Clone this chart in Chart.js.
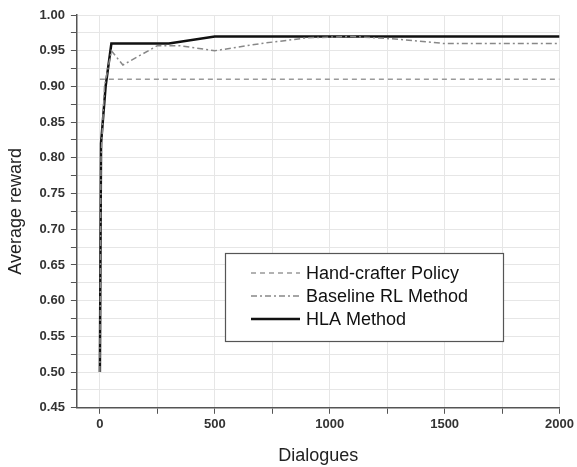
<!DOCTYPE html>
<html>
<head>
<meta charset="utf-8">
<script src="https://cdn.jsdelivr.net/npm/chart.js@4/dist/chart.umd.min.js"></script>
<style>
  html, body { margin: 0; padding: 0; background: #fff; }
  #wrap { width: 577px; height: 467px; }
</style>
</head>
<body>
<div id="wrap"><canvas id="myChart"></canvas></div>
<script>
// series
var handX = [0, 2000];
var handY = [0.91, 0.91];

var baseX = [0, 5, 20, 50, 100, 250, 350, 500, 700, 900, 1100, 1300, 1500, 2000];
var baseY = [0.50, 0.80, 0.90, 0.95, 0.93, 0.957, 0.957, 0.95, 0.96, 0.968, 0.97, 0.966, 0.96, 0.96];

var hlaX = [0, 5, 15, 25, 50, 300, 500, 2000];
var hlaY = [0.50, 0.82, 0.86, 0.90, 0.96, 0.96, 0.97, 0.97];

var labels = ["Hand-crafter Policy", "Baseline RL Method", "HLA Method"];

// x ticks (labels only on the 500s)
var xTicks = [0, 250, 500, 750, 1000, 1250, 1500, 1750, 2000];

function pts(xs, ys) {
  var out = [];
  for (var i = 0; i < xs.length; i++) out.push({x: xs[i], y: ys[i]});
  return out;
}

// legend box inside the plot
var boxLegend = {
  id: 'boxLegend',
  afterDraw: function(chart) {
    var c = chart.ctx;
    c.save();
    c.fillStyle = '#fff';
    c.fillRect(225, 253, 278, 88);
    c.strokeStyle = '#555';
    c.lineWidth = 1.2;
    c.strokeRect(225.5, 253.5, 278, 88);
    var ys = [273, 296, 319];
    chart.data.datasets.forEach(function(ds, i) {
      c.beginPath();
      c.strokeStyle = ds.borderColor;
      c.lineWidth = ds.borderWidth;
      c.setLineDash(ds.borderDash || []);
      c.moveTo(251, ys[i]);
      c.lineTo(300, ys[i]);
      c.stroke();
      c.setLineDash([]);
      c.fillStyle = '#111';
      c.font = '18px "Liberation Sans", Arial, sans-serif';
      c.textBaseline = 'middle';
      c.fillText(ds.label, 306, ys[i] + 1);
    });
    c.restore();
  }
};

var ctx = document.getElementById('myChart');
var myChart = new Chart(ctx, {
  type: 'line',
  data: {
    datasets: [
      {
        label: labels[0],
        data: pts(handX, handY),
        borderColor: '#999',
        borderWidth: 1.5,
        borderDash: [5, 4],
        pointRadius: 0,
        fill: false
      },
      {
        label: labels[1],
        data: pts(baseX, baseY),
        borderColor: '#888',
        borderWidth: 1.5,
        borderDash: [6, 3, 2, 3],
        pointRadius: 0,
        fill: false
      },
      {
        label: labels[2],
        data: pts(hlaX, hlaY),
        borderColor: '#111',
        borderWidth: 2.5,
        pointRadius: 0,
        fill: false
      }
    ]
  },
  options: {
    responsive: true,
    maintainAspectRatio: false,
    animation: false,
    layout: { padding: { left: 5, right: 15, top: 15, bottom: 0 } },
    plugins: {
      legend: { display: false },
      tooltip: { enabled: false }
    },
    scales: {
      x: {
        type: 'linear',
        min: -100,
        max: 2000,
        afterBuildTicks: function(scale) {
          scale.ticks = xTicks.map(function(v) { return {value: v}; });
        },
        ticks: {
          autoSkip: false,
          maxRotation: 0,
          color: '#333',
          padding: 3,
          font: { family: '"Liberation Sans", Arial, sans-serif', size: 13, weight: 'bold' },
          callback: function(v) { return v % 500 === 0 ? String(v) : ''; }
        },
        grid: { color: '#e6e6e6', tickColor: '#555', tickLength: 6 },
        border: { color: '#555', width: 1.5 },
        title: {
          display: true,
          text: 'Dialogues',
          color: '#222',
          padding: { top: 10, bottom: 0 },
          font: { family: '"Liberation Sans", Arial, sans-serif', size: 18 }
        }
      },
      y: {
        min: 0.45,
        max: 1.0,
        ticks: {
          stepSize: 0.025,
          autoSkip: false,
          color: '#333',
          padding: 6,
          font: { family: '"Liberation Sans", Arial, sans-serif', size: 13, weight: 'bold' },
          callback: function(v) {
            var r = Math.round(v * 1000);
            return r % 50 === 0 ? (r / 1000).toFixed(2) : '';
          }
        },
        grid: { color: '#e6e6e6', tickColor: '#555', tickLength: 6 },
        border: { color: '#555', width: 1.5 },
        title: {
          display: true,
          text: 'Average reward',
          color: '#222',
          padding: { top: 0, bottom: 7 },
          font: { family: '"Liberation Sans", Arial, sans-serif', size: 18 }
        }
      }
    }
  },
  plugins: [boxLegend]
});
</script>
</body>
</html>
